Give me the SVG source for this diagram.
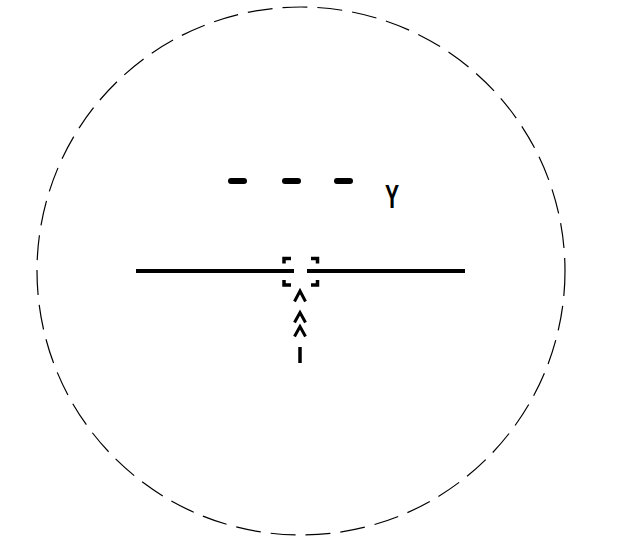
<svg xmlns="http://www.w3.org/2000/svg" width="618" height="548" viewBox="0 0 618 548">
<style>
.circ{fill:none;stroke:#000;stroke-width:1.2;stroke-dasharray:25 10}
.thick{fill:none;stroke:#000;stroke-width:4}
.brk{fill:none;stroke:#000;stroke-width:3.5}
.chev{fill:none;stroke:#000;stroke-width:3}
.dash{fill:none;stroke:#000;stroke-width:6;stroke-linecap:round}
.lbl{font-family:"Liberation Sans",Arial,sans-serif;font-size:33px;font-weight:bold;fill:#000}
</style>
<rect width="618" height="548" fill="#fff"/>
<g id="boundary">
<circle class="circ" cx="301" cy="271" r="264"/>
</g>
<g id="dashed-line-Y">
<line class="dash" x1="231" y1="181" x2="244" y2="181"/>
<line class="dash" x1="285" y1="181" x2="298" y2="181"/>
<line class="dash" x1="337" y1="181" x2="350" y2="181"/>
<text class="lbl" transform="translate(385,208) scale(0.64,1)">Y</text>
</g>
<g id="main-line">
<line class="thick" x1="136" y1="271" x2="294" y2="271"/>
<line class="thick" x1="307" y1="271" x2="465" y2="271"/>
</g>
<g id="target">
<path class="brk" d="M284,263.5 V258.5 H291"/>
<path class="brk" d="M311,258.5 H317.5 V263.5"/>
<path class="brk" d="M284,280 V285 H291"/>
<path class="brk" d="M311,285 H317.5 V280"/>
</g>
<g id="connectors">
<polyline class="chev" points="294.5,301.5 300,291 305.5,301.5"/>
<polyline class="chev" points="294.5,322.5 300,312.5 305.5,322.5"/>
<polyline class="chev" points="294.5,336.5 300,326.5 305.5,336.5"/>
<line x1="300" y1="347" x2="300" y2="363" stroke="#000" stroke-width="3.5"/>
</g>
</svg>
